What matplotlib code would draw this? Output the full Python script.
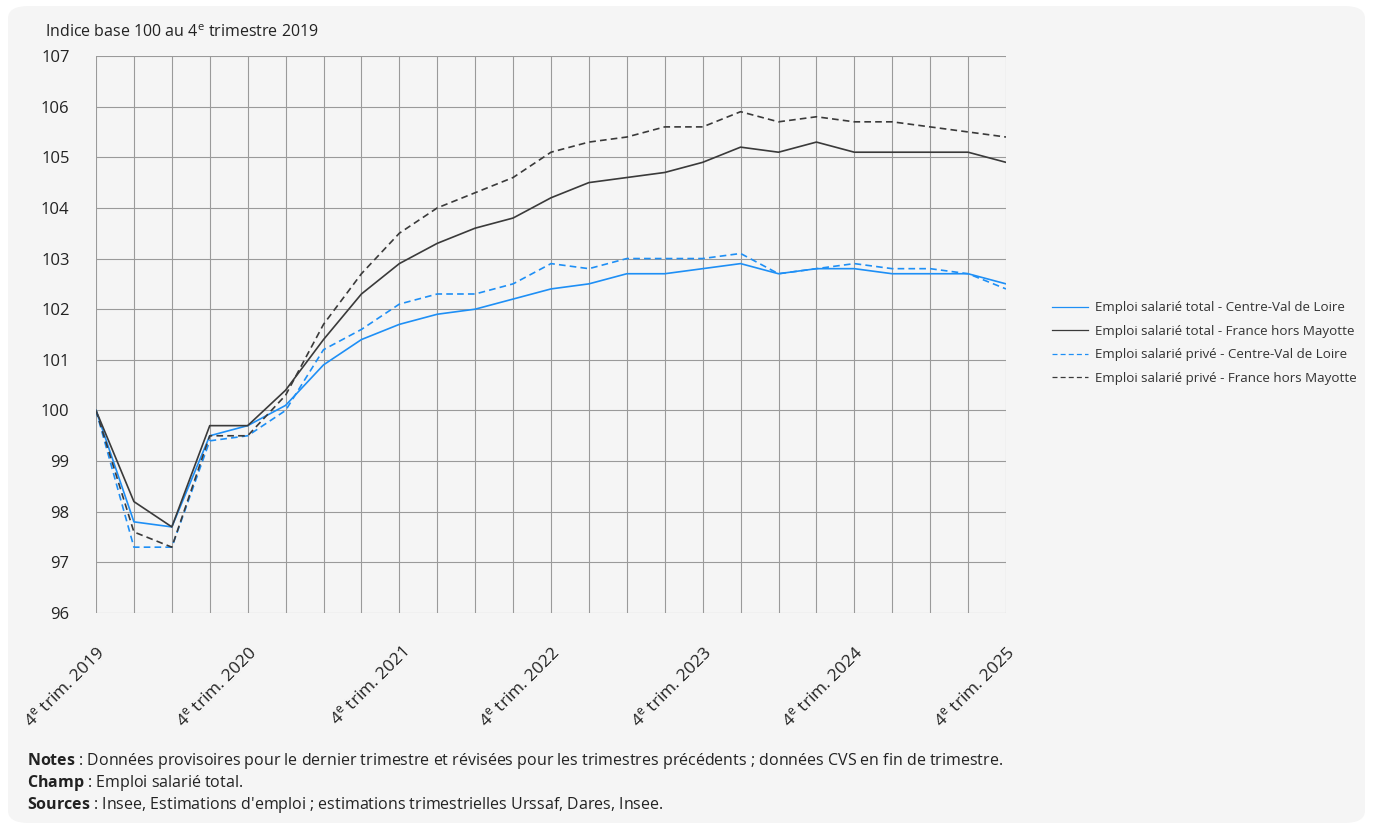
import matplotlib.pyplot as plt
from matplotlib.patches import FancyBboxPatch

plt.rcParams['font.family'] = ['Open Sans', 'DejaVu Sans']
plt.rcParams['mathtext.fontset'] = 'custom'
plt.rcParams['mathtext.rm'] = 'Open Sans'
plt.rcParams['mathtext.it'] = 'Open Sans:italic'
plt.rcParams['mathtext.bf'] = 'Open Sans:bold'

# quarters from 4e trim. 2019 to 4e trim. 2025
n_quarters = 25
tick_labels = ["4$^{\\mathrm{e}}$ trim. %d" % y for y in range(2019, 2026)]

total_cvl = [100, 97.8, 97.7, 99.5, 99.7, 100.1, 100.9, 101.4, 101.7, 101.9, 102.0, 102.2, 102.4,
             102.5, 102.7, 102.7, 102.8, 102.9, 102.7, 102.8, 102.8, 102.7, 102.7, 102.7, 102.5]
total_fr = [100, 98.2, 97.7, 99.7, 99.7, 100.4, 101.4, 102.3, 102.9, 103.3, 103.6, 103.8, 104.2,
            104.5, 104.6, 104.7, 104.9, 105.2, 105.1, 105.3, 105.1, 105.1, 105.1, 105.1, 104.9]
prive_cvl = [100, 97.3, 97.3, 99.4, 99.5, 100.0, 101.2, 101.6, 102.1, 102.3, 102.3, 102.5, 102.9,
             102.8, 103.0, 103.0, 103.0, 103.1, 102.7, 102.8, 102.9, 102.8, 102.8, 102.7, 102.4]
prive_fr = [100, 97.6, 97.3, 99.5, 99.5, 100.3, 101.7, 102.7, 103.5, 104.0, 104.3, 104.6, 105.1,
            105.3, 105.4, 105.6, 105.6, 105.9, 105.7, 105.8, 105.7, 105.7, 105.6, 105.5, 105.4]

labels = ["Emploi salarié total - Centre-Val de Loire",
          "Emploi salarié total - France hors Mayotte",
          "Emploi salarié privé - Centre-Val de Loire",
          "Emploi salarié privé - France hors Mayotte"]

blue = "#1e8ff5"
dark = "#3a3a3a"
bg = "#f5f5f5"

fig = plt.figure(figsize=(13.73, 8.31), dpi=100, facecolor="white")
panel = FancyBboxPatch((8 / 1373, 8 / 831), 1357 / 1373, 817 / 831,
                       boxstyle="round,pad=0,rounding_size=0.015", transform=fig.transFigure,
                       facecolor=bg, edgecolor="none", zorder=-10)
fig.patches.append(panel)

ax = fig.add_axes([96 / 1373, 1 - 613 / 831, 910 / 1373, 557 / 831])
ax.set_facecolor(bg)
x = list(range(n_quarters))
dash = (0, (4, 2.5))
ax.plot(x, total_cvl, color=blue, lw=1.2, label=labels[0])
ax.plot(x, total_fr, color=dark, lw=1.2, label=labels[1])
ax.plot(x, prive_cvl, color=blue, lw=1.2, ls=dash, label=labels[2])
ax.plot(x, prive_fr, color=dark, lw=1.2, ls=dash, label=labels[3])

ax.set_xlim(0, n_quarters - 1)
ax.set_ylim(96, 107)
ax.set_yticks(range(96, 108))
ax.set_xticks(x)
ax.set_xticklabels([tick_labels[i // 4] if i % 4 == 0 else "" for i in x],
                   rotation=45, ha="right", rotation_mode="anchor", fontsize=12.5, color="#222222")
ax.tick_params(axis="x", length=0, pad=22)
ax.tick_params(axis="y", length=0, labelsize=12, labelcolor="#222222", pad=19)
ax.grid(True, color="#9a9a9a", lw=0.8)
ax.set_axisbelow(True)
for s in ax.spines.values():
    s.set_visible(False)

fig.text(45 / 1373, 1 - 33 / 831, "Indice base 100 au 4$^{\\mathrm{e}}$ trimestre 2019",
         fontsize=11.5, color="#222222", va="center")

leg = fig.legend(loc="center left", bbox_to_anchor=(1040 / 1373, 1 - 343 / 831), frameon=False,
                 fontsize=9.6, handlelength=2.7, handletextpad=0.55, labelspacing=0.78,
                 labelcolor="#333333")
for h in leg.get_lines():
    h.set_linewidth(0.9)

notes = [("Notes", " : Données provisoires pour le dernier trimestre et révisées pour les trimestres précédents ; données CVS en fin de trimestre."),
         ("Champ", " : Emploi salarié total."),
         ("Sources", " : Insee, Estimations d'emploi ; estimations trimestrielles Urssaf, Dares, Insee.")]
for i, (b, t) in enumerate(notes):
    y = 1 - (761 + 22 * i) / 831
    fig.text(27 / 1373, y, "$\\bf{" + b + "}$" + t, fontsize=11.5, color="#222222", va="center")

fig.savefig("out.png", dpi=100, facecolor="white")
